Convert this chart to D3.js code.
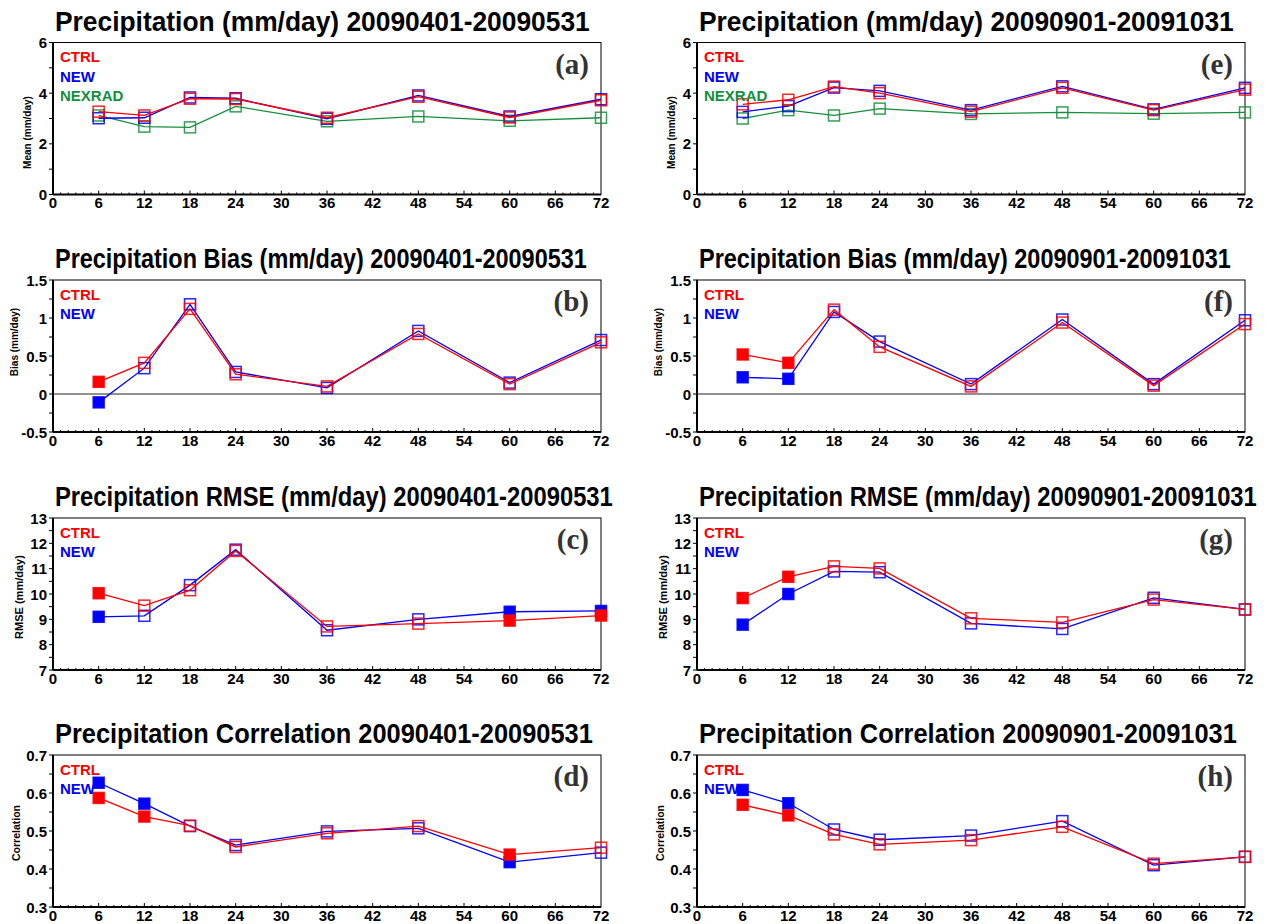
<!DOCTYPE html>
<html>
<head>
<meta charset="utf-8">
<script src="https://cdn.jsdelivr.net/npm/d3@7"></script>
<style>
  body { margin: 0; background: #fff; }
  svg text { font-family: "Liberation Sans", Arial, sans-serif; font-weight: bold; }
</style>
</head>
<body>
<svg id="chart" width="1267" height="924"></svg>
<script>
// forecast hours
const hours = [6, 12, 18, 24, 36, 48, 60, 72];
const xTicks = d3.range(0, 73, 6);

// 20090401-20090531
const meanSpringCtrl = [3.27, 3.12, 3.78, 3.77, 3.03, 3.86, 3.04, 3.72];
const meanSpringNew = [3.01, 3.03, 3.83, 3.80, 2.99, 3.91, 3.08, 3.76];
const meanSpringNexrad = [3.12, 2.68, 2.65, 3.48, 2.89, 3.08, 2.91, 3.03];
const biasSpringCtrl = [0.16, 0.41, 1.12, 0.26, 0.10, 0.79, 0.13, 0.68];
const biasSpringNew = [-0.11, 0.34, 1.18, 0.29, 0.08, 0.83, 0.15, 0.71];
const biasSpringFilled = [6];
const rmseSpringCtrl = [10.03, 9.54, 10.15, 11.70, 8.72, 8.83, 8.95, 9.15];
const rmseSpringNew = [9.10, 9.14, 10.35, 11.75, 8.57, 9.00, 9.30, 9.33];
const rmseSpringFilled = [6, 60, 72];
const corrSpringCtrl = [0.587, 0.538, 0.514, 0.458, 0.494, 0.513, 0.438, 0.456];
const corrSpringNew = [0.627, 0.572, 0.513, 0.463, 0.499, 0.507, 0.418, 0.443];
const corrSpringFilled = [6, 12, 60];

// 20090901-20091031
const meanFallCtrl = [3.56, 3.74, 4.26, 4.00, 3.27, 4.21, 3.33, 4.14];
const meanFallNew = [3.26, 3.49, 4.22, 4.09, 3.33, 4.27, 3.36, 4.21];
const meanFallNexrad = [3.00, 3.33, 3.12, 3.39, 3.18, 3.24, 3.19, 3.24];
const biasFallCtrl = [0.52, 0.41, 1.11, 0.62, 0.10, 0.94, 0.11, 0.92];
const biasFallNew = [0.22, 0.20, 1.08, 0.69, 0.13, 0.98, 0.13, 0.97];
const biasFallFilled = [6, 12];
const rmseFallCtrl = [9.84, 10.68, 11.09, 11.01, 9.04, 8.88, 9.78, 9.39];
const rmseFallNew = [8.79, 10.00, 10.89, 10.86, 8.84, 8.62, 9.85, 9.39];
const rmseFallFilled = [6, 12];
const corrFallCtrl = [0.569, 0.541, 0.491, 0.465, 0.476, 0.511, 0.414, 0.432];
const corrFallNew = [0.608, 0.573, 0.504, 0.477, 0.488, 0.526, 0.410, 0.432];
const corrFallFilled = [6, 12];

const red = '#ff0000', blue = '#0000ff', green = '#138f3c';

// one entry per row of panels
const rows = [
  {kind: 'mean', titleLeft: 'Precipitation (mm/day) 20090401-20090531', titleRight: 'Precipitation (mm/day) 20090901-20091031',
   titleWidth: 535, yLabel: 'Mean (mm/day)', domain: [0, 6], yTicks: [0, 2, 4, 6], tickLabels: ['0', '2', '4', '6'], minor: 1,
   labelSize: 10, labelDx: -22, labelDy: 14},
  {kind: 'bias', titleLeft: 'Precipitation Bias (mm/day) 20090401-20090531', titleRight: 'Precipitation Bias (mm/day) 20090901-20091031',
   titleWidth: 532, yLabel: 'Bias (mm/day)', domain: [-0.5, 1.5], yTicks: [-0.5, 0, 0.5, 1, 1.5], tickLabels: ['-0.5', '0', '0.5', '1', '1.5'], minor: 0.25,
   labelSize: 10, labelDx: -35, labelDy: -14},
  {kind: 'rmse', titleLeft: 'Precipitation RMSE (mm/day) 20090401-20090531', titleRight: 'Precipitation RMSE (mm/day) 20090901-20091031',
   titleWidth: 558, yLabel: 'RMSE (mm/day)', domain: [7, 13], yTicks: [7, 8, 9, 10, 11, 12, 13], tickLabels: ['7', '8', '9', '10', '11', '12', '13'], minor: 0.5,
   labelSize: 11, labelDx: -30, labelDy: 3},
  {kind: 'corr', titleLeft: 'Precipitation Correlation 20090401-20090531', titleRight: 'Precipitation Correlation 20090901-20091031',
   titleWidth: 538, yLabel: 'Correlation', domain: [0.3, 0.7], yTicks: [0.3, 0.4, 0.5, 0.6, 0.7], tickLabels: ['0.3', '0.4', '0.5', '0.6', '0.7'], minor: 0.05,
   labelSize: 10.5, labelDx: -33, labelDy: 2}
];

const panels = [
  {row: 0, col: 0, tag: '(a)', filled: [], series: [
    {name: 'CTRL', color: red, values: meanSpringCtrl},
    {name: 'NEW', color: blue, values: meanSpringNew},
    {name: 'NEXRAD', color: green, values: meanSpringNexrad}]},
  {row: 1, col: 0, tag: '(b)', filled: biasSpringFilled, series: [
    {name: 'CTRL', color: red, values: biasSpringCtrl},
    {name: 'NEW', color: blue, values: biasSpringNew}]},
  {row: 2, col: 0, tag: '(c)', filled: rmseSpringFilled, series: [
    {name: 'CTRL', color: red, values: rmseSpringCtrl},
    {name: 'NEW', color: blue, values: rmseSpringNew}]},
  {row: 3, col: 0, tag: '(d)', filled: corrSpringFilled, series: [
    {name: 'CTRL', color: red, values: corrSpringCtrl},
    {name: 'NEW', color: blue, values: corrSpringNew}]},
  {row: 0, col: 1, tag: '(e)', filled: [], series: [
    {name: 'CTRL', color: red, values: meanFallCtrl},
    {name: 'NEW', color: blue, values: meanFallNew},
    {name: 'NEXRAD', color: green, values: meanFallNexrad}]},
  {row: 1, col: 1, tag: '(f)', filled: biasFallFilled, series: [
    {name: 'CTRL', color: red, values: biasFallCtrl},
    {name: 'NEW', color: blue, values: biasFallNew}]},
  {row: 2, col: 1, tag: '(g)', filled: rmseFallFilled, series: [
    {name: 'CTRL', color: red, values: rmseFallCtrl},
    {name: 'NEW', color: blue, values: rmseFallNew}]},
  {row: 3, col: 1, tag: '(h)', filled: corrFallFilled, series: [
    {name: 'CTRL', color: red, values: corrFallCtrl},
    {name: 'NEW', color: blue, values: corrFallNew}]}
];

const colLeft = [53, 697];
const rowTop = [42.5, 280, 518, 755];
const plotW = 548, plotH = 152;
const box = 11;

const svg = d3.select('#chart');

panels.forEach((p) => {
  const r = rows[p.row];
  const g = svg.append('g')
    .attr('transform', `translate(${colLeft[p.col]},${rowTop[p.row]})`);

  const x = d3.scaleLinear().domain([0, 72]).range([0, plotW]);
  const y = d3.scaleLinear().domain(r.domain).range([plotH, 0]);

  // title, squeezed sideways to the original's width
  const title = g.append('text')
    .style('font-size', '27px')
    .text(p.col === 0 ? r.titleLeft : r.titleRight);
  const tw = title.node().getComputedTextLength();
  title.attr('transform', `translate(2,-12) scale(${r.titleWidth / tw},1)`);

  // frame
  g.append('rect')
    .attr('width', plotW).attr('height', plotH)
    .attr('fill', 'none').attr('stroke', '#000').attr('stroke-width', 1);
  g.append('line').attr('x1', 0).attr('x2', 0).attr('y1', 0).attr('y2', plotH)
    .attr('stroke', '#000').attr('stroke-width', 2);
  g.append('line').attr('x1', 0).attr('x2', plotW).attr('y1', plotH).attr('y2', plotH)
    .attr('stroke', '#000').attr('stroke-width', 2);

  // x ticks
  g.selectAll('.xminor')
    .data(d3.range(1, 72))
    .join('line')
    .attr('x1', (d) => x(d)).attr('x2', (d) => x(d))
    .attr('y1', plotH).attr('y2', (d) => plotH - (d % 6 === 0 ? 4 : 2))
    .attr('stroke', '#000').attr('stroke-width', 1);
  g.selectAll('.xlab')
    .data(xTicks)
    .join('text')
    .attr('x', (d) => x(d))
    .attr('y', plotH + 13.5)
    .attr('text-anchor', 'middle')
    .style('font-size', '15px')
    .text((d) => d);

  // y ticks
  const minors = d3.range(r.domain[0], r.domain[1] + r.minor / 2, r.minor);
  g.selectAll('.yminor')
    .data(minors)
    .join('line')
    .attr('x1', 0).attr('x2', -4)
    .attr('y1', (d) => y(d)).attr('y2', (d) => y(d))
    .attr('stroke', '#000').attr('stroke-width', 1);
  g.selectAll('.ylab')
    .data(r.yTicks)
    .join('text')
    .attr('x', -6)
    .attr('y', (d) => y(d) + 5.5)
    .attr('text-anchor', 'end')
    .style('font-size', '15px')
    .text((d, i) => r.tickLabels[i]);

  // y label
  g.append('text')
    .attr('transform', `translate(${r.labelDx},${plotH / 2 + r.labelDy}) rotate(-90)`)
    .attr('text-anchor', 'middle')
    .style('font-size', `${r.labelSize}px`)
    .text(r.yLabel);

  // zero line for bias
  if (r.kind === 'bias') {
    g.append('line')
      .attr('x1', 0).attr('x2', plotW)
      .attr('y1', y(0)).attr('y2', y(0))
      .attr('stroke', '#222').attr('stroke-width', 1);
  }

  // series, drawn back to front
  const line = d3.line()
    .x((d) => x(d.h))
    .y((d) => y(d.v));
  p.series.slice().reverse().forEach((s) => {
    const pts = hours.map((h, i) => ({h, v: s.values[i]}));
    g.append('path')
      .datum(pts)
      .attr('d', line)
      .attr('fill', 'none')
      .attr('stroke', s.color)
      .attr('stroke-width', 1.3);
    g.selectAll(null)
      .data(pts)
      .join('rect')
      .attr('x', (d) => x(d.h) - box / 2)
      .attr('y', (d) => y(d.v) - box / 2)
      .attr('width', box).attr('height', box)
      .attr('fill', (d) => (p.filled.includes(d.h) ? s.color : 'none'))
      .attr('stroke', s.color)
      .attr('stroke-opacity', 0.85)
      .attr('stroke-width', 1.5);
  });

  // legend
  g.selectAll('.legend')
    .data(p.series)
    .join('text')
    .attr('x', 7)
    .attr('y', (d, i) => 19.5 + i * 19.5)
    .attr('fill', (d) => d.color)
    .style('font-size', '15px')
    .text((d) => d.name);

  // panel tag
  g.append('text')
    .attr('x', plotW - 12)
    .attr('y', 31)
    .attr('text-anchor', 'end')
    .attr('fill', '#333')
    .style('font-family', '"Liberation Serif", "Times New Roman", serif')
    .style('font-size', '29px')
    .text(p.tag);
});
</script>
</body>
</html>
